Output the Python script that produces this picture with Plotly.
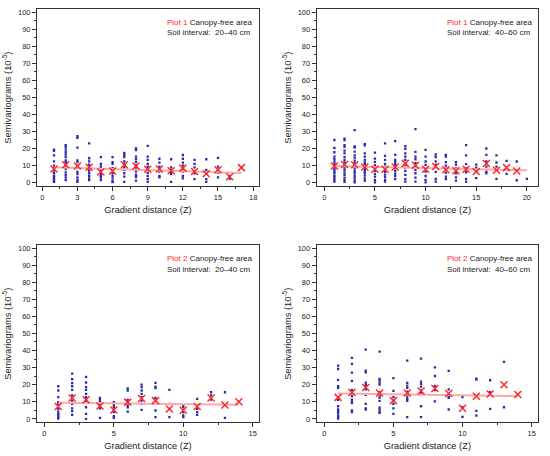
import plotly.graph_objects as go
from plotly.subplots import make_subplots

# Plot 1, 20-40 cm
p1a_lag = list(range(1, 18))
p1a_points = [
    [19.3, 18.7, 16, 12.5, 10, 8.5, 7, 5.5, 4, 3, 2, 1, 0.5],
    [22, 21, 19.5, 18, 16.5, 15, 13, 12, 11, 10, 9, 8, 6, 4.5, 3, 1.5],
    [27.2, 26.2, 20.5, 13, 12, 10, 8.5, 6.3, 5, 3, 1.5, 0.5],
    [23, 14.3, 12.5, 10.5, 9.3, 8, 7, 5.5, 4, 2.5, 1.5],
    [15, 11, 9.5, 8.5, 7.2, 6, 5, 4, 3, 1.5],
    [15, 12, 11, 8.5, 7.5, 5.5, 4, 2.5, 1, 0.3],
    [17.5, 16.3, 15, 12.5, 11, 10, 9, 7.5, 5.5, 3.5, 0.5],
    [20, 19, 15.3, 13.7, 12, 10.3, 9.3, 7.8, 6.5, 4.5, 3.3, 1.2],
    [21.5, 15.3, 13.3, 11, 9.3, 7.6, 5.7, 3.9, 2, 0.4],
    [14, 11.7, 9.3, 7.8, 6.4, 3.9, 3.1],
    [13.7, 9, 7.4, 6, 5, 0.5],
    [16.2, 14, 11.7, 10, 8, 6.4, 3.9, 2.5],
    [13.3, 11, 9, 6.8, 5.5, 2.1],
    [13.7, 7.4, 5.5, 2, 0.5],
    [14.5, 9.4, 7.4, 5.7, 3.1],
    [4, 3.1, 2.3],
    [8.8],
]
p1a_mean = [8, 10.5, 9.8, 9, 6.2, 6.8, 10.5, 9.8, 7.8, 8, 7, 8.5, 6.5, 5.2, 7.5, 3.5, 8.8]
p1a_trend_x = [1, 17]
p1a_trend_y = [9.0, 5.7]

# Plot 1, 40-60 cm
p1b_lag = list(range(1, 21))
p1b_points = [
    [25, 20.3, 17.8, 15.3, 13.7, 12.3, 11, 9.5, 8, 6.7, 5.5, 4, 2.8, 1.5, 0.6],
    [25.8, 24.9, 22, 21, 18.8, 17.2, 14.9, 13.3, 11.8, 10.4, 8.8, 7.4, 5.9, 4.5, 2.9, 1.6, 0.4],
    [30.8, 21.2, 20.6, 18.2, 16, 14.7, 12.9, 11.4, 10, 8.4, 6.9, 5.5, 3.9, 2.5, 1.2, 0.2],
    [22.5, 21.8, 17.2, 15.3, 13.3, 11.8, 10.8, 9.4, 8, 6.7, 5.5, 4.1, 2.5, 1.2],
    [17.6, 14.1, 12.2, 10.2, 8.4, 6.9, 5.1, 3.5, 1.6, 0.2],
    [23, 15.7, 13.3, 11, 9.4, 7.6, 6.3, 4.7, 3.3, 1.6, 0.6],
    [24.3, 16.3, 13.3, 12.2, 11, 9.8, 8.4, 6.9, 5.3, 3.9, 2],
    [21.4, 19.8, 17.2, 15.3, 13.3, 10.6, 8.8, 6.9, 4.5, 2, 0.6],
    [31.4, 18, 15.3, 13.7, 11.4, 9.4, 7.5, 5.5, 2.9, 0.6],
    [19.2, 15.3, 12.4, 10.4, 8.4, 6.5, 3.9, 1.6, 0.2],
    [16.5, 14.9, 12.5, 10.6, 8.6, 6.3, 2.2, 0.6],
    [16.3, 15.3, 12, 10, 8.2, 5.9, 3.5, 2],
    [12, 10.6, 8.4, 7.1, 5.5, 3.1, 1.2],
    [22, 16, 10.8, 8.4, 6.1, 2.2, 0.6],
    [10.6, 8.8, 6.7, 2.7],
    [20, 16.3, 12.5, 11.4, 9.4, 6.5, 5.5],
    [16, 11.8, 9.4, 2.2],
    [12.7, 7.5, 5.1],
    [12.4, 1.4],
    [2.2],
]
p1b_mean_lag = list(range(1, 20))
p1b_mean = [9.7, 10.6, 10.5, 9.2, 7.8, 7.8, 9.2, 11.3, 10.2, 7.8, 9.5, 7.5, 7,
            7.8, 6.5, 11.2, 7.3, 8.8, 6.8]
p1b_trend_x = [1, 20]
p1b_trend_y = [9.8, 7.2]

# Plot 2, 20-40 cm
p2a_lag = list(range(1, 15))
p2a_points = [
    [19.1, 16.6, 12.7, 9.8, 8.8, 5.9, 4.3, 2.9, 2, 1, 0.2],
    [26.5, 23.2, 20.9, 19.1, 17, 13.7, 12.3, 10.7, 8.8, 6.2, 4.5, 2.3],
    [24.6, 21.3, 18.6, 17, 14.6, 12.7, 11.5, 10.2, 6.8, 2.9, 0],
    [12.3, 11.3, 10.2, 9.2, 8.2, 7.2, 6.2, 0.6],
    [9.8, 8.2, 6.8, 5.3, 3.9, 1.6, 0.6],
    [17.8, 16.6, 11.1, 10.2, 8.2, 6.8, 4.3],
    [20.1, 18.6, 16.6, 14.6, 12.7, 10.7, 8.8, 5.3],
    [21.1, 18.9, 18, 12.3, 4.9, 1],
    [17, 8.8, 5.9, 1],
    [7.8, 6.8, 3.9, 2, 1],
    [11.7, 5.9, 3.9, 2.3],
    [15.6, 13.7, 11.3],
    [15.6, 0.6],
    [10],
]
p2a_mean = [7.2, 12.2, 11.2, 7.5, 5.2, 9.8, 11.9, 10.7, 5.8, 5.0, 7.2, 12.2, 8.1, 10]
p2a_trend_x = [1, 14]
p2a_trend_y = [9.4, 8.2]

# Plot 2, 40-60 cm
p2b_lag = list(range(1, 15))
p2b_points = [
    [31.2, 29.2, 22.8, 19.1, 18.1, 12.7, 11.1, 7.4, 5.5, 4.5, 3.3, 1.9, 1, 0.2],
    [35.7, 32.2, 27.1, 22.2, 17, 15.4, 13.3, 11.3, 10.3, 9.2, 4.9, 3.9],
    [40.5, 28.3, 27.3, 21.2, 20.1, 19.1, 17.3, 14, 8.8, 6.2, 5.5],
    [39.4, 23.4, 22.4, 21.2, 20.1, 15.6, 14, 12.5, 10.5, 6.6, 5.5, 4.3, 3.5],
    [23.8, 16.4, 12.7, 10.7, 8.8, 6.2, 2.9],
    [34.1, 21.1, 19.5, 18.1, 16, 14.6, 13.1, 11.7, 10.5, 1],
    [35.3, 21.8, 20.5, 18.9, 16.6, 15.2, 7.4, 1],
    [30.2, 25.1, 19.3, 16.8, 10.2],
    [28.1, 17.3, 13.1, 12.3, 5.5],
    [12.7, 6.8, 1.2],
    [23.6, 23, 4.7, 1.9],
    [22.6, 15.6, 5.9],
    [33.4, 6.8],
    [14.3],
]
p2b_mean = [12.6, 15.4, 18.4, 15.2, 10.7, 15.2, 16.3, 17.8, 14.8, 6.2, 13.2, 14.6, 20, 14.3]
p2b_trend_x = [1, 14]
p2b_trend_y = [14.8, 13.3]

panels = [
    ("Plot 1", "20–40 cm", p1a_lag, p1a_points, p1a_lag, p1a_mean, p1a_trend_x, p1a_trend_y),
    ("Plot 1", "40–60 cm", p1b_lag, p1b_points, p1b_mean_lag, p1b_mean, p1b_trend_x, p1b_trend_y),
    ("Plot 2", "20–40 cm", p2a_lag, p2a_points, p2a_lag, p2a_mean, p2a_trend_x, p2a_trend_y),
    ("Plot 2", "40–60 cm", p2b_lag, p2b_points, p2b_lag, p2b_mean, p2b_trend_x, p2b_trend_y),
]

x_ranges = [[-0.45, 18.5], [-0.75, 21.1], [-0.53, 15.45], [-0.55, 15.46]]
x_dticks = [3, 5, 5, 5]
x_domains = [[0.0673, 0.4709], [0.5758, 0.9782], [0.0673, 0.4709], [0.5758, 0.9782]]
y_domains = [[0.592, 0.9796], [0.592, 0.9796], [0.0739, 0.4621], [0.0739, 0.4621]]

FONT = "Liberation Sans, Arial, sans-serif"
DOT = "#2b2ba8"
RED = "#ff2a2a"
PINK = "#ffa8a8"
INK = "#222"

fig = make_subplots(rows=2, cols=2)

for i, (plot, depth, lags, pts, mlag, mean, tx, ty) in enumerate(panels):
    r, c = i // 2 + 1, i % 2 + 1
    xs, ys = [], []
    for lag, vals in zip(lags, pts):
        xs += [lag] * len(vals)
        ys += vals
    fig.add_trace(go.Scatter(
        x=xs, y=ys, mode="markers",
        marker=dict(symbol="square", size=2.3, color=DOT, line=dict(width=0)),
        showlegend=False,
    ), row=r, col=c)
    fig.add_trace(go.Scatter(
        x=tx, y=ty, mode="lines", line=dict(color=PINK, width=2),
        showlegend=False,
    ), row=r, col=c)
    fig.add_trace(go.Scatter(
        x=mlag, y=mean, mode="markers",
        marker=dict(symbol="x-thin-open", size=7, color=RED,
                    line=dict(color=RED, width=1.5)),
        showlegend=False,
    ), row=r, col=c)

    sfx = "" if i == 0 else str(i + 1)
    fig.add_annotation(
        xref=f"x{sfx} domain", yref=f"y{sfx} domain", x=0.578, y=0.928,
        xanchor="left", yanchor="middle", showarrow=False,
        text=f"<span style='color:{RED}'>{plot}</span> Canopy-free area",
        font=dict(family=FONT, size=8, color=INK),
    )
    fig.add_annotation(
        xref=f"x{sfx} domain", yref=f"y{sfx} domain", x=0.578, y=0.866,
        xanchor="left", yanchor="middle", showarrow=False,
        text=f"Soil interval:  {depth}",
        font=dict(family=FONT, size=8, color=INK),
    )

    fig.update_xaxes(
        domain=x_domains[i], range=x_ranges[i], dtick=x_dticks[i], tick0=0,
        automargin=False,
        showgrid=False, zeroline=False, showline=True, linecolor="#333", linewidth=1,
        mirror=True, ticks="outside", ticklen=4, tickcolor="#333",
        minor=dict(ticks="outside", ticklen=2, tickcolor="#333", dtick=x_dticks[i] / 2),
        tickfont=dict(family=FONT, size=7.5, color=INK),
        title=dict(text="Gradient distance (Z)", standoff=5,
                   font=dict(family=FONT, size=9.3, color=INK)),
        row=r, col=c,
    )
    fig.update_yaxes(
        domain=y_domains[i], range=[-2, 101.6], dtick=10, tick0=0,
        automargin=False,
        showgrid=False, zeroline=False, showline=True, linecolor="#333", linewidth=1,
        mirror=True, ticks="outside", ticklen=4, tickcolor="#333",
        minor=dict(ticks="outside", ticklen=2, tickcolor="#333", dtick=5),
        tickfont=dict(family=FONT, size=7.5, color=INK),
        title=dict(text="Semivariograms (10<sup>-5</sup>)", standoff=4,
                   font=dict(family=FONT, size=9.3, color=INK)),
        row=r, col=c,
    )

fig.update_layout(
    width=550, height=456,
    margin=dict(l=0, r=0, t=0, b=0),
    paper_bgcolor="white", plot_bgcolor="white",
    hovermode=False,
)

# the page body has a default 8px margin; drop it so the figure fills the window
fig.write_html(
    "out.html",
    config={"displayModeBar": False, "staticPlot": True},
    post_script="document.body.style.margin = '0';",
)
